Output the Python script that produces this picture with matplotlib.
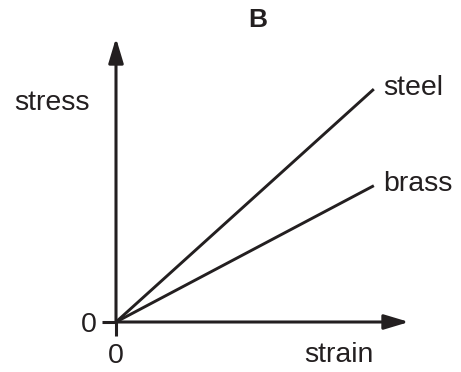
import matplotlib
matplotlib.use("Agg")
import matplotlib.pyplot as plt

# stress-strain sketch, arbitrary units
strain = [0, 8.8]
steel_stress = [0, 8.2]
brass_stress = [0, 4.8]
line_labels = ["steel", "brass"]
tick_labels = ["0"]

ink = "#231f20"
plt.rcParams["font.family"] = ["Liberation Sans", "DejaVu Sans"]
plt.rcParams["font.size"] = 20.5

fig = plt.figure(figsize=(4.61, 3.72), dpi=100)
ax = fig.add_axes([116 / 461, 50 / 372, 293 / 461, 284 / 372])
ax.set_xlim(0, 10)
ax.set_ylim(0, 10)

for sp in ax.spines.values():
    sp.set_visible(False)

# axes drawn as arrows
arrow = dict(arrowstyle="-|>,head_length=1.5,head_width=0.45", lw=2.2,
             color=ink, shrinkA=0, shrinkB=0, mutation_scale=10)
ax.annotate("", xy=(1, 0), xytext=(0, 0), xycoords="axes fraction", arrowprops=arrow)
ax.annotate("", xy=(0, 1), xytext=(0, 0), xycoords="axes fraction", arrowprops=arrow)

ax.set_xticks([0])
ax.set_yticks([0])
ax.set_xticklabels(tick_labels)
ax.set_yticklabels(tick_labels)
ax.tick_params(length=10, width=2.2, color=ink, labelcolor=ink, labelsize=20.5)
ax.tick_params(axis="x", pad=5)
ax.tick_params(axis="y", pad=4)

for ys, name in zip([steel_stress, brass_stress], line_labels):
    ax.plot(strain, ys, color=ink, lw=2.1, solid_capstyle="butt", clip_on=False)
    ax.annotate(name, xy=(strain[-1], ys[-1]), xytext=(7, 1), textcoords="offset points",
                ha="left", va="center", color=ink)

ax.text(-0.348, 0.771, "stress", transform=ax.transAxes, ha="left", va="center",
        color=ink)
ax.text(0.761, -0.116, "strain", transform=ax.transAxes, ha="center", va="center",
        color=ink)
ax.text(0.485, 1.063, "B", transform=ax.transAxes, ha="center", va="center",
        color=ink, fontsize=19, fontweight="bold")

fig.savefig("out.png", dpi=100)
